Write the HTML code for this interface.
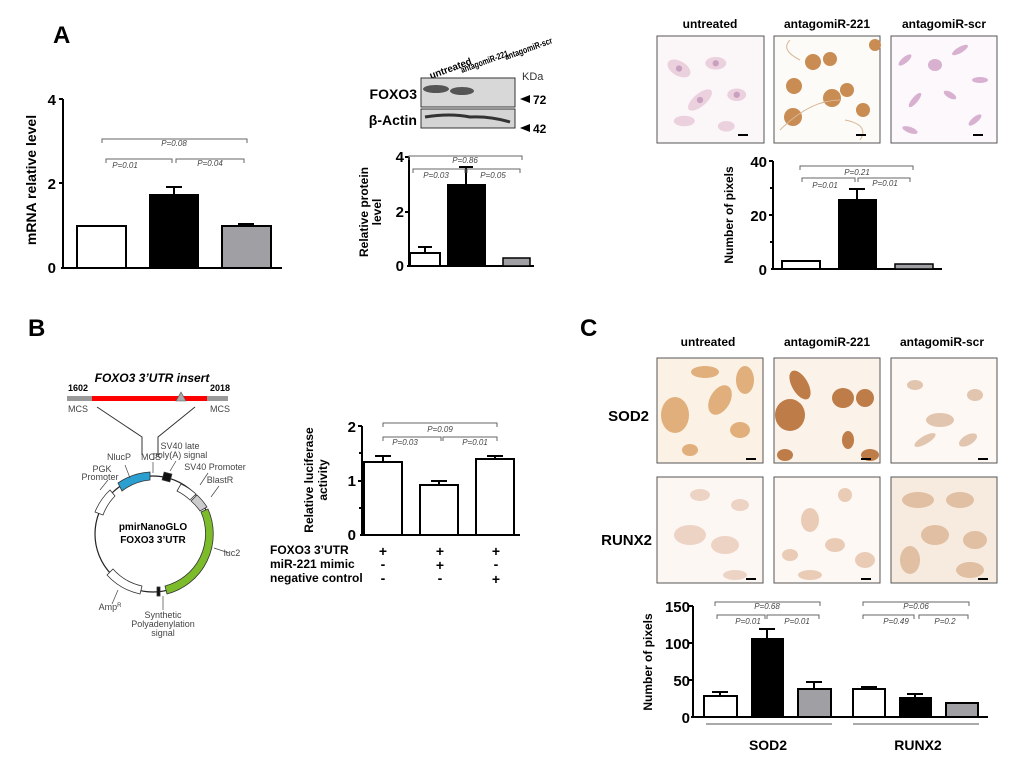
<!DOCTYPE html>
<html><head><meta charset="utf-8"><style>
html,body{margin:0;padding:0;background:#fff;}
svg{display:block;font-family:"Liberation Sans",Arial,sans-serif;}
.b{font-weight:bold}
.p{font-size:8px;font-style:italic;fill:#444;text-anchor:middle}
.br{fill:none;stroke:#666;stroke-width:1}
.ax{stroke:#000;stroke-width:2;fill:none}
.t{font-size:15px;font-weight:bold;text-anchor:end}
.h{font-size:12px;font-weight:bold;text-anchor:middle}
.sm{font-size:9px;fill:#444;text-anchor:middle}
</style></head><body>
<svg width="1020" height="759" viewBox="0 0 1020 759" xmlns="http://www.w3.org/2000/svg">
<defs>
<symbol id="cellsA" viewBox="0 0 100 100">
<g fill="#e8c8d8" opacity="0.8">
<ellipse cx="20" cy="30" rx="12" ry="7" transform="rotate(30 20 30)"/>
<ellipse cx="55" cy="25" rx="10" ry="6"/>
<ellipse cx="40" cy="60" rx="14" ry="6" transform="rotate(-40 40 60)"/>
<ellipse cx="75" cy="55" rx="9" ry="6"/>
<ellipse cx="25" cy="80" rx="10" ry="5"/>
<ellipse cx="65" cy="85" rx="8" ry="5"/>
</g>
<g fill="#c9a0c0"><circle cx="20" cy="30" r="3"/><circle cx="55" cy="25" r="3"/><circle cx="40" cy="60" r="3"/><circle cx="75" cy="55" r="3"/></g>
</symbol>
</defs>

<!-- Panel letters -->
<text x="53" y="43" font-size="24" class="b">A</text>
<text x="28" y="336" font-size="24" class="b">B</text>
<text x="580" y="336" font-size="24" class="b">C</text>

<!-- Chart 1 -->
<text transform="translate(36,180) rotate(-90)" font-size="14" class="b" text-anchor="middle">mRNA relative level</text>
<text x="56" y="105" class="t">4</text><text x="56" y="189" class="t">2</text><text x="56" y="273" class="t">0</text>
<path class="ax" d="M63 99 V268 M59 99 H63 M59 183 H63 M61 268 H282"/>
<rect x="77" y="226" width="49" height="42" fill="#fff" stroke="#000" stroke-width="2"/>
<path d="M174 194 V187 M166 187 H182" stroke="#000" stroke-width="2"/>
<rect x="149" y="194" width="50" height="74" fill="#000"/>
<path d="M246 226 V224 M238 224 H254" stroke="#000" stroke-width="2"/>
<rect x="222" y="226" width="49" height="42" fill="#a0a0a4" stroke="#000" stroke-width="2"/>
<path class="br" d="M102 143 V139 H247 V143 M106 163 V159 H172 V163 M176 163 V159 H244 V163"/>
<text x="174" y="146" class="p">P=0.08</text><text x="125" y="168" class="p">P=0.01</text><text x="210" y="166" class="p">P=0.04</text>

<!-- Western blot -->
<text transform="translate(431,79) rotate(-20)" font-size="10" class="b" textLength="44" lengthAdjust="spacingAndGlyphs">untreated</text>
<text transform="translate(462,73) rotate(-20)" font-size="9" class="b" textLength="50" lengthAdjust="spacingAndGlyphs">antagomiR-221</text>
<text transform="translate(506,60) rotate(-20)" font-size="9" class="b" textLength="50" lengthAdjust="spacingAndGlyphs">antagomiR-scr</text>
<text x="522" y="80" font-size="11" fill="#333">KDa</text>
<text x="417" y="99" font-size="14" class="b" text-anchor="end">FOXO3</text>
<text x="417" y="125" font-size="14" class="b" text-anchor="end">β-Actin</text>
<rect x="421" y="78" width="94" height="29" fill="#d8d8d8" stroke="#333"/>
<ellipse cx="436" cy="89" rx="13" ry="4" fill="#555"/><ellipse cx="462" cy="91" rx="12" ry="4" fill="#555"/>
<rect x="421" y="109" width="94" height="19" fill="#d4d4d4" stroke="#333"/>
<path d="M425 117 Q450 113 470 117 Q490 116 510 122" stroke="#333" stroke-width="3" fill="none"/>
<path d="M520 99 L530 95 V103 Z M520 128 L530 124 V132 Z" fill="#000"/>
<text x="533" y="104" font-size="12" class="b">72</text>
<text x="533" y="133" font-size="12" class="b">42</text>

<!-- Chart 2 -->
<text transform="translate(368,212) rotate(-90)" font-size="12" class="b" text-anchor="middle">Relative protein</text>
<text transform="translate(381,212) rotate(-90)" font-size="12" class="b" text-anchor="middle">level</text>
<text x="404" y="162" class="t">4</text><text x="404" y="217" class="t">2</text><text x="404" y="271" class="t">0</text>
<path class="ax" d="M409 157 V266 M405 157 H409 M405 212 H409 M407 266 H534"/>
<path d="M425 253 V247 M418 247 H432" stroke="#000" stroke-width="2"/>
<rect x="410" y="253" width="30" height="13" fill="#fff" stroke="#000" stroke-width="2"/>
<path d="M466 184 V167 M459 167 H473" stroke="#000" stroke-width="2"/>
<rect x="447" y="184" width="39" height="82" fill="#000"/>
<rect x="503" y="258" width="27" height="8" fill="#a0a0a4" stroke="#000" stroke-width="1.5"/>
<path class="br" d="M409 160 V156 H522 V160 M413 173 V169 H465 V173 M467 173 V169 H520 V173"/>
<text x="465" y="163" class="p">P=0.86</text><text x="436" y="178" class="p">P=0.03</text><text x="493" y="178" class="p">P=0.05</text>

<!-- Top-right micrographs -->
<text x="710" y="28" class="h">untreated</text><text x="827" y="28" class="h">antagomiR-221</text><text x="944" y="28" class="h">antagomiR-scr</text>
<rect x="657" y="36" width="107" height="107" fill="#fbf6f8" stroke="#555"/>
<use href="#cellsA" x="658" y="37" width="105" height="105"/>
<rect x="774" y="36" width="106" height="107" fill="#fdfbf8" stroke="#555"/>
<g fill="#c98c52"><circle cx="813" cy="62" r="8"/><circle cx="830" cy="59" r="7"/><circle cx="794" cy="86" r="8"/><circle cx="832" cy="98" r="9"/><circle cx="847" cy="90" r="7"/><circle cx="793" cy="117" r="9"/><circle cx="863" cy="110" r="7"/><circle cx="875" cy="45" r="6"/></g>
<path d="M780 130 Q810 100 840 100 M800 60 Q780 50 790 40 M845 120 Q870 125 860 140" stroke="#d8b898" fill="none"/>
<rect x="891" y="36" width="106" height="107" fill="#fcf8fb" stroke="#555"/>
<g fill="#d8b0d0"><ellipse cx="905" cy="60" rx="8" ry="3" transform="rotate(-40 905 60)"/><ellipse cx="935" cy="65" rx="7" ry="6"/><ellipse cx="960" cy="50" rx="9" ry="3" transform="rotate(-30 960 50)"/><ellipse cx="980" cy="80" rx="8" ry="3"/><ellipse cx="915" cy="100" rx="9" ry="3" transform="rotate(-50 915 100)"/><ellipse cx="950" cy="95" rx="7" ry="3" transform="rotate(30 950 95)"/><ellipse cx="910" cy="130" rx="8" ry="3" transform="rotate(20 910 130)"/><ellipse cx="975" cy="120" rx="8" ry="3" transform="rotate(-40 975 120)"/></g>
<path d="M738 135 H748 M856 135 H866 M973 135 H983" stroke="#000" stroke-width="2"/>

<!-- Chart 3 -->
<text transform="translate(733,215) rotate(-90)" font-size="12" class="b" text-anchor="middle">Number of pixels</text>
<text x="767" y="167" class="t">40</text><text x="767" y="221" class="t">20</text><text x="767" y="275" class="t">0</text>
<path class="ax" d="M773 161 V269 M769 161 H773 M769 215 H773 M770 242 H773 M770 188 H773 M771 269 H942"/>
<rect x="782" y="261" width="38" height="8" fill="#fff" stroke="#000" stroke-width="2"/>
<path d="M857 199 V189 M849 189 H865" stroke="#000" stroke-width="2"/>
<rect x="838" y="199" width="39" height="70" fill="#000"/>
<rect x="895" y="264" width="38" height="5" fill="#a0a0a4" stroke="#000" stroke-width="1.5"/>
<path class="br" d="M800 170 V166 H913 V170 M802 182 V178 H855 V182 M858 182 V178 H910 V182"/>
<text x="857" y="175" class="p">P=0.21</text><text x="825" y="188" class="p">P=0.01</text><text x="885" y="186" class="p">P=0.01</text>

<!-- B: plasmid -->
<text x="152" y="382" font-size="12" class="b" font-style="italic" text-anchor="middle">FOXO3 3’UTR  insert</text>
<text x="78" y="391" font-size="9" class="b" text-anchor="middle">1602</text>
<text x="220" y="391" font-size="9" class="b" text-anchor="middle">2018</text>
<rect x="67" y="396" width="25" height="5" fill="#999"/>
<rect x="92" y="396" width="115" height="5" fill="#f00"/>
<rect x="207" y="396" width="21" height="5" fill="#999"/>
<path d="M181 392 L176 401 H186 Z" fill="#aaa" stroke="#555" stroke-width="0.6"/>
<text x="78" y="412" class="sm">MCS</text><text x="220" y="412" class="sm">MCS</text>
<path d="M97 407 L142 437 V455 M195 407 L158 437 V455" stroke="#333" fill="none"/>
<circle cx="153" cy="534" r="58" fill="none" stroke="#222" stroke-width="1.2"/>
<text x="153" y="530" font-size="10" class="b" text-anchor="middle">pmirNanoGLO</text>
<text x="153" y="543" font-size="10" class="b" text-anchor="middle">FOXO3 3’UTR</text>
<g stroke="#333" stroke-width="0.8">
<path d="M150 472 A62 62 0 0 0 118 483 L122 491 A54 54 0 0 1 150 480 Z" fill="#2a9fd0"/>
<rect x="163" y="473" width="8" height="8" fill="#111" transform="rotate(15 167 477)"/>
<path d="M181 484 A62 62 0 0 1 196 494 L190 500 A54 54 0 0 0 177 491 Z" fill="#fff"/>
<path d="M197 495 A62 62 0 0 1 207 507 L200 511 A54 54 0 0 0 191 501 Z" fill="#ccc"/>
<path d="M208 509 A62 62 0 0 1 167 594 L165 586 A54 54 0 0 0 201 512 Z" fill="#7cbc2a"/>
<rect x="157" y="587" width="3" height="9" fill="#111"/>
<path d="M140 594 A62 62 0 0 1 107 575 L113 569 A54 54 0 0 0 142 586 Z" fill="#fff"/>
<path d="M95 512 A62 62 0 0 1 110 490 L115 496 A54 54 0 0 0 103 515 Z" fill="#fff"/>
</g>
<text x="119" y="460" class="sm">NlucP</text><text x="151" y="460" class="sm">MCS</text>
<text x="180" y="449" class="sm">SV40 late</text><text x="180" y="458" class="sm">poly(A) signal</text>
<text x="215" y="470" class="sm">SV40 Promoter</text><text x="220" y="483" class="sm">BlastR</text>
<text x="102" y="472" class="sm">PGK</text><text x="100" y="480" class="sm">Promoter</text>
<text x="232" y="556" class="sm">luc2</text>
<text x="110" y="610" class="sm">Amp<tspan font-size="6" dy="-3">R</tspan></text>
<text x="163" y="618" class="sm">Synthetic</text><text x="163" y="627" class="sm">Polyadenylation</text><text x="163" y="636" class="sm">signal</text>
<path d="M125 465 L130 478 M153 462 V473 M176 461 L170 471 M208 473 L200 485 M219 486 L211 497 M229 553 L214 548 M108 480 L100 490 M112 604 L118 590 M163 610 V596" stroke="#444" stroke-width="0.7"/>

<!-- Chart 4 -->
<text transform="translate(313,480) rotate(-90)" font-size="12" class="b" text-anchor="middle">Relative luciferase</text>
<text transform="translate(327,480) rotate(-90)" font-size="12" class="b" text-anchor="middle">activity</text>
<text x="356" y="432" class="t">2</text><text x="356" y="486" class="t">1</text><text x="356" y="540" class="t">0</text>
<path class="ax" d="M362 426 V535 M358 426 H362 M358 481 H362 M359 453 H362 M359 508 H362 M360 535 H520"/>
<path d="M383 462 V456 M375 456 H391" stroke="#000" stroke-width="2"/>
<rect x="364" y="462" width="38" height="73" fill="#fff" stroke="#000" stroke-width="2"/>
<path d="M439 485 V481 M431 481 H447" stroke="#000" stroke-width="2"/>
<rect x="420" y="485" width="38" height="50" fill="#fff" stroke="#000" stroke-width="2"/>
<path d="M495 459 V456 M487 456 H503" stroke="#000" stroke-width="2"/>
<rect x="476" y="459" width="38" height="76" fill="#fff" stroke="#000" stroke-width="2"/>
<path class="br" d="M383 427 V423 H497 V427 M383 441 V437 H441 V441 M443 441 V437 H497 V441"/>
<text x="440" y="432" class="p">P=0.09</text><text x="405" y="445" class="p">P=0.03</text><text x="475" y="445" class="p">P=0.01</text>
<g font-size="12" font-weight="bold">
<text x="270" y="554">FOXO3 3’UTR</text><text x="270" y="568">miR-221 mimic</text><text x="270" y="582">negative control</text>
</g>
<g font-size="14" font-weight="bold" text-anchor="middle">
<text x="383" y="556">+</text><text x="440" y="556">+</text><text x="496" y="556">+</text>
<text x="383" y="569">-</text><text x="440" y="570">+</text><text x="496" y="569">-</text>
<text x="383" y="583">-</text><text x="440" y="583">-</text><text x="496" y="584">+</text>
</g>

<!-- C micrographs -->
<text x="708" y="346" class="h">untreated</text><text x="827" y="346" class="h">antagomiR-221</text><text x="942" y="346" class="h">antagomiR-scr</text>
<text x="649" y="421" font-size="15" class="b" text-anchor="end">SOD2</text>
<text x="652" y="545" font-size="15" class="b" text-anchor="end">RUNX2</text>
<rect x="657" y="358" width="106" height="105" fill="#fbf1e4" stroke="#555"/>
<g fill="#dca46a" opacity="0.85"><ellipse cx="675" cy="415" rx="14" ry="18"/><ellipse cx="705" cy="372" rx="14" ry="6"/><ellipse cx="720" cy="400" rx="10" ry="16" transform="rotate(30 720 400)"/><ellipse cx="745" cy="380" rx="9" ry="14"/><ellipse cx="740" cy="430" rx="10" ry="8"/><ellipse cx="690" cy="450" rx="8" ry="6"/></g>
<rect x="774" y="358" width="106" height="105" fill="#fbf3ea" stroke="#555"/>
<g fill="#b87038" opacity="0.9"><ellipse cx="790" cy="415" rx="15" ry="16"/><ellipse cx="800" cy="385" rx="8" ry="16" transform="rotate(-30 800 385)"/><ellipse cx="843" cy="398" rx="11" ry="10"/><ellipse cx="865" cy="398" rx="9" ry="9"/><ellipse cx="848" cy="440" rx="6" ry="9"/><ellipse cx="870" cy="455" rx="9" ry="6"/><ellipse cx="785" cy="455" rx="8" ry="6"/></g>
<rect x="891" y="358" width="106" height="105" fill="#fdf8f3" stroke="#555"/>
<g fill="#e0c0a8" opacity="0.9"><ellipse cx="915" cy="385" rx="8" ry="5"/><ellipse cx="940" cy="420" rx="14" ry="7"/><ellipse cx="975" cy="395" rx="8" ry="6"/><ellipse cx="968" cy="440" rx="10" ry="5" transform="rotate(-30 968 440)"/><ellipse cx="925" cy="440" rx="12" ry="4" transform="rotate(-30 925 440)"/></g>
<rect x="657" y="477" width="106" height="106" fill="#fdf7f3" stroke="#555"/>
<g fill="#ecd0c0" opacity="0.9"><ellipse cx="690" cy="535" rx="16" ry="10"/><ellipse cx="725" cy="545" rx="14" ry="9"/><ellipse cx="700" cy="495" rx="10" ry="6"/><ellipse cx="740" cy="505" rx="9" ry="6"/><ellipse cx="735" cy="575" rx="12" ry="5"/></g>
<rect x="774" y="477" width="106" height="106" fill="#fdf8f4" stroke="#555"/>
<g fill="#e8c8b0" opacity="0.9"><ellipse cx="810" cy="520" rx="9" ry="12"/><ellipse cx="790" cy="555" rx="8" ry="6"/><ellipse cx="835" cy="545" rx="10" ry="7"/><ellipse cx="865" cy="560" rx="10" ry="8"/><ellipse cx="845" cy="495" rx="7" ry="7"/><ellipse cx="810" cy="575" rx="12" ry="5"/></g>
<rect x="891" y="477" width="106" height="106" fill="#f7eadf" stroke="#555"/>
<g fill="#dcb898" opacity="0.85"><ellipse cx="918" cy="500" rx="16" ry="8"/><ellipse cx="960" cy="500" rx="14" ry="8"/><ellipse cx="935" cy="535" rx="14" ry="10"/><ellipse cx="975" cy="540" rx="12" ry="9"/><ellipse cx="910" cy="560" rx="10" ry="14"/><ellipse cx="970" cy="570" rx="14" ry="8"/></g>
<path d="M746 459 H756 M861 459 H871 M978 459 H988 M746 579 H756 M861 579 H871 M978 579 H988" stroke="#000" stroke-width="2"/>

<!-- Chart 5 -->
<text transform="translate(652,662) rotate(-90)" font-size="12" class="b" text-anchor="middle">Number of pixels</text>
<text x="690" y="612" class="t">150</text><text x="690" y="649" class="t">100</text><text x="690" y="686" class="t">50</text><text x="690" y="723" class="t">0</text>
<path class="ax" d="M693 606 V717 M689 606 H693 M689 643 H693 M689 680 H693 M691 717 H988"/>
<path d="M720 696 V692 M712 692 H728" stroke="#000" stroke-width="2"/>
<rect x="704" y="696" width="33" height="21" fill="#fff" stroke="#000" stroke-width="2"/>
<path d="M767 638 V629 M759 629 H775" stroke="#000" stroke-width="2"/>
<rect x="751" y="638" width="33" height="79" fill="#000"/>
<path d="M814 689 V682 M806 682 H822" stroke="#000" stroke-width="2"/>
<rect x="798" y="689" width="33" height="28" fill="#a0a0a4" stroke="#000" stroke-width="2"/>
<path d="M869 689 V687 M861 687 H877" stroke="#000" stroke-width="2"/>
<rect x="853" y="689" width="32" height="28" fill="#fff" stroke="#000" stroke-width="2"/>
<path d="M915 697 V694 M907 694 H923" stroke="#000" stroke-width="2"/>
<rect x="899" y="697" width="33" height="20" fill="#000"/>
<rect x="946" y="703" width="32" height="14" fill="#a0a0a4" stroke="#000" stroke-width="2"/>
<path class="br" d="M715 606 V602 H820 V606 M717 619 V615 H765 V619 M767 619 V615 H819 V619 M863 606 V602 H969 V606 M863 619 V615 H914 V619 M919 619 V615 H968 V619"/>
<text x="767" y="609" class="p">P=0.68</text><text x="748" y="624" class="p">P=0.01</text><text x="797" y="624" class="p">P=0.01</text>
<text x="916" y="609" class="p">P=0.06</text><text x="896" y="624" class="p">P=0.49</text><text x="945" y="624" class="p">P=0.2</text>
<path d="M706 724 H832 M853 724 H979" stroke="#555" stroke-width="1"/>
<text x="768" y="750" font-size="14" class="b" text-anchor="middle">SOD2</text>
<text x="918" y="750" font-size="14" class="b" text-anchor="middle">RUNX2</text>
</svg>
</body></html>
